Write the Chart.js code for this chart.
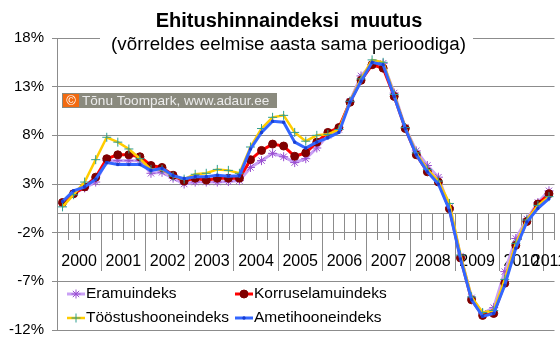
<!DOCTYPE html>
<html>
<head>
<meta charset="utf-8">
<script src="https://cdn.jsdelivr.net/npm/chart.js@4/dist/chart.umd.min.js"></script>
<style>
  html, body { margin: 0; padding: 0; background: #fff; }
  canvas { display: block; }
</style>
</head>
<body>
<canvas id="chart" width="560" height="342"></canvas>
<script>
// ── Data ──────────────────────────────────────────────────────────────────────
const years    = ['2000','2001','2002','2003','2004','2005','2006','2007','2008','2009','2010','2011'];
const quarters = ['I','II','III','IV'];
const nPoints  = 45;   // 2000 I … 2011 I

const eramu = [1.0, 2.0, 2.6, 3.2, 5.4, 5.4, 5.4, 5.4, 4.1, 4.2, 3.6, 3.0,
  3.2, 3.2, 3.2, 3.25, 3.35, 4.7, 5.4, 6.15, 5.8, 5.2, 5.6, 6.7,
  8.0, 8.6, 11.5, 14.1, 15.3, 15.4, 12.35, 8.8, 6.4, 4.9, 3.7, 0.6,
  -4.4, -8.7, -10.3, -9.7, -6.0, -2.6, -0.6, 1.1, 2.3];
const korrusela = [1.1, 2.0, 2.7, 3.7, 5.6, 6.0, 6.0, 5.8, 4.9, 4.7, 3.9, 3.3,
  3.6, 3.4, 3.6, 3.6, 3.6, 5.5, 6.45, 7.1, 6.9, 5.85, 6.2, 7.3,
  8.3, 8.8, 11.4, 13.65, 15.25, 14.9, 12.0, 8.7, 6.0, 4.25, 3.2, 0.45,
  -4.6, -8.9, -10.5, -10.3, -7.2, -3.3, -0.85, 0.95, 2.0];
const toostus = [0.65, 1.9, 3.2, 5.5, 7.8, 7.3, 6.6, 5.6, 4.5, 4.5, 3.8, 3.5,
  4.0, 4.1, 4.5, 4.4, 4.1, 6.8, 8.7, 9.85, 10.05, 8.3, 7.4, 8.0,
  8.1, 8.6, 11.5, 13.8, 15.75, 15.5, 12.2, 8.8, 6.2, 4.5, 3.3, 1.0,
  -4.3, -8.6, -10.2, -10.0, -6.8, -3.1, -0.7, 0.8, 1.7];
const ametihoone = [1.2, 2.3, 2.7, 3.5, 5.2, 5.0, 5.0, 5.0, 4.4, 4.6, 3.85, 3.55,
  3.75, 3.75, 3.9, 3.8, 3.85, 6.6, 8.3, 9.45, 9.35, 7.3, 6.7, 7.3,
  7.75, 8.3, 11.4, 13.55, 15.5, 15.25, 12.0, 8.7, 6.0, 4.25, 3.0, 0.3,
  -4.7, -8.9, -10.6, -10.3, -7.4, -3.6, -0.9, 0.5, 1.5];

const yTicks = [-12, -7, -2, 3, 8, 13, 18];

const FONT = 'Arial, "Liberation Sans", sans-serif';
const GRID = '#8c8c8c';

// quarter labels for the category axis
const labels = years.flatMap(y => quarters.map(q => `${y} ${q}`)).slice(0, nPoints);

// year labels sit in the middle of their quarters, separators between years
const yearLabelAt = {};
const yearBounds  = [];
years.forEach((y, i) => {
  const nq = Math.min(4, nPoints - i * 4);
  yearLabelAt[i * 4 + (nq - 1) / 2] = y;
  yearBounds.push(i * 4 - 0.5);
});

// ── Overlays: title, subtitle, copyright tag, in-plot legend ──────────────────
const overlays = {
  id: 'overlays',
  beforeDatasetsDraw(chart) {
    const ctx = chart.ctx;
    ctx.save();
    // title
    ctx.fillStyle = '#000';
    ctx.textAlign = 'center';
    ctx.textBaseline = 'alphabetic';
    ctx.font = `bold 20px ${FONT}`;
    ctx.fillText('Ehitushinnaindeksi  muutus', 289, 27);
    // subtitle on a white patch over the top gridline
    ctx.fillStyle = '#fff';
    ctx.fillRect(100, 31, 373, 25);
    ctx.fillStyle = '#000';
    ctx.font = `18.8px ${FONT}`;
    ctx.fillText('(võrreldes eelmise aasta sama perioodiga)', 288.5, 50);

    // copyright tag
    ctx.fillStyle = '#8a8a7e';
    ctx.fillRect(62, 93, 215, 15);
    ctx.fillStyle = '#f26a10';
    ctx.fillRect(63, 94, 16, 13);
    ctx.fillStyle = '#fff';
    ctx.font = `13px ${FONT}`;
    ctx.textAlign = 'center';
    ctx.textBaseline = 'middle';
    ctx.fillText('©', 71, 101);
    ctx.fillStyle = '#ececec';
    ctx.textAlign = 'left';
    ctx.font = `13.6px ${FONT}`;
    ctx.fillText('Tõnu Toompark, www.adaur.ee', 82, 101);

    // legend box inside the plot
    ctx.fillStyle = '#fff';
    ctx.fillRect(58, 284, 341, 45);
    const slots = [[67, 294], [235, 294], [67, 318], [235, 318]];
    chart.data.datasets.forEach((ds, i) => {
      const [x, y] = slots[i];
      ctx.strokeStyle = ds.borderColor;
      ctx.lineWidth = ds.borderWidth;
      ctx.beginPath();
      ctx.moveTo(x, y);
      ctx.lineTo(x + 18, y);
      ctx.stroke();
      ctx.fillStyle = ds.pointBackgroundColor;
      ctx.strokeStyle = ds.pointBorderColor;
      ctx.lineWidth = ds.pointBorderWidth;
      Chart.helpers.drawPoint(ctx, {
        pointStyle: ds.pointStyle, radius: ds.pointRadius, rotation: 0,
        borderWidth: ds.pointBorderWidth
      }, x + 9, y);
      ctx.fillStyle = '#000';
      ctx.font = `15.5px ${FONT}`;
      ctx.textAlign = 'left';
      ctx.textBaseline = 'middle';
      ctx.fillText(ds.label, x + 19, y);
    });
    ctx.restore();
  }
};

// ── Chart ─────────────────────────────────────────────────────────────────────
new Chart(document.getElementById('chart'), {
  type: 'line',
  data: {
    labels,
    datasets: [
      {
        label: 'Eramuindeks', data: eramu, order: 3,
        borderColor: '#c9a0f5', borderWidth: 3,
        pointStyle: 'star', pointRadius: 4.5, pointBorderWidth: 1,
        pointBorderColor: '#9a4fd0', pointBackgroundColor: '#9a4fd0',
      },
      {
        label: 'Korruselamuindeks', data: korrusela, order: 2,
        borderColor: '#ff0000', borderWidth: 3,
        pointStyle: 'circle', pointRadius: 4, pointBorderWidth: 1,
        pointBorderColor: '#800000', pointBackgroundColor: '#800000',
      },
      {
        label: 'Tööstushooneindeks', data: toostus, order: 1,
        borderColor: '#ffcc00', borderWidth: 2.5,
        pointStyle: 'cross', pointRadius: 4.5, pointBorderWidth: 1,
        pointBorderColor: '#2f9e8f', pointBackgroundColor: '#2f9e8f',
      },
      {
        label: 'Ametihooneindeks', data: ametihoone, order: 0,
        borderColor: '#3366ff', borderWidth: 3,
        pointStyle: 'rect', pointRadius: 1.5, pointBorderWidth: 1,
        pointBorderColor: '#1a3fd0', pointBackgroundColor: '#1a3fd0',
      },
    ]
  },
  options: {
    responsive: false,
    animation: false,
    layout: { padding: { left: 0, right: 4, top: 38, bottom: 12 } },
    plugins: {
      legend: { display: false },
      title: { display: false },
      tooltip: { enabled: false },
    },
    elements: { line: { tension: 0 } },
    scales: {
      y: {
        min: -12, max: 18,
        afterBuildTicks: s => { s.ticks = yTicks.map(v => ({ value: v })); },
        afterFit: s => { s.width = 57; s.paddingTop = 0; s.paddingBottom = 0; },
        grid: { color: GRID, tickColor: GRID, tickLength: 5 },
        border: { color: GRID },
        ticks: {
          color: '#000', padding: 8,
          font: { family: FONT, size: 15 },
          callback: v => v + '%',
        },
      },
      x: {
        type: 'category',
        offset: true,
        position: { y: 0 },
        afterFit: s => { s.paddingLeft = 0; s.paddingRight = 0; },
        grid: { drawOnChartArea: false, offset: true, tickLength: 26, tickColor: GRID },
        border: { color: GRID },
        ticks: { display: false },
      },
      x2: {
        type: 'linear',
        axis: 'x',
        min: -0.5, max: nPoints - 0.5,
        position: { y: 0 },
        afterBuildTicks: s => {
          const vals = [...yearBounds, ...Object.keys(yearLabelAt).map(Number)].sort((a, b) => a - b);
          s.ticks = vals.map(v => ({ value: v }));
        },
        afterFit: s => { s.paddingLeft = 0; s.paddingRight = 0; },
        grid: {
          drawOnChartArea: false, tickLength: 58,
          tickColor: c => yearBounds.includes(c.tick.value) ? GRID : 'rgba(0,0,0,0)',
        },
        border: { display: false },
        ticks: {
          autoSkip: false, maxRotation: 0, padding: -19, color: '#000',
          font: { family: FONT, size: 16 },
          callback: v => yearLabelAt[v] || '',
        },
      },
    },
  },
  plugins: [overlays],
});
</script>
</body>
</html>
